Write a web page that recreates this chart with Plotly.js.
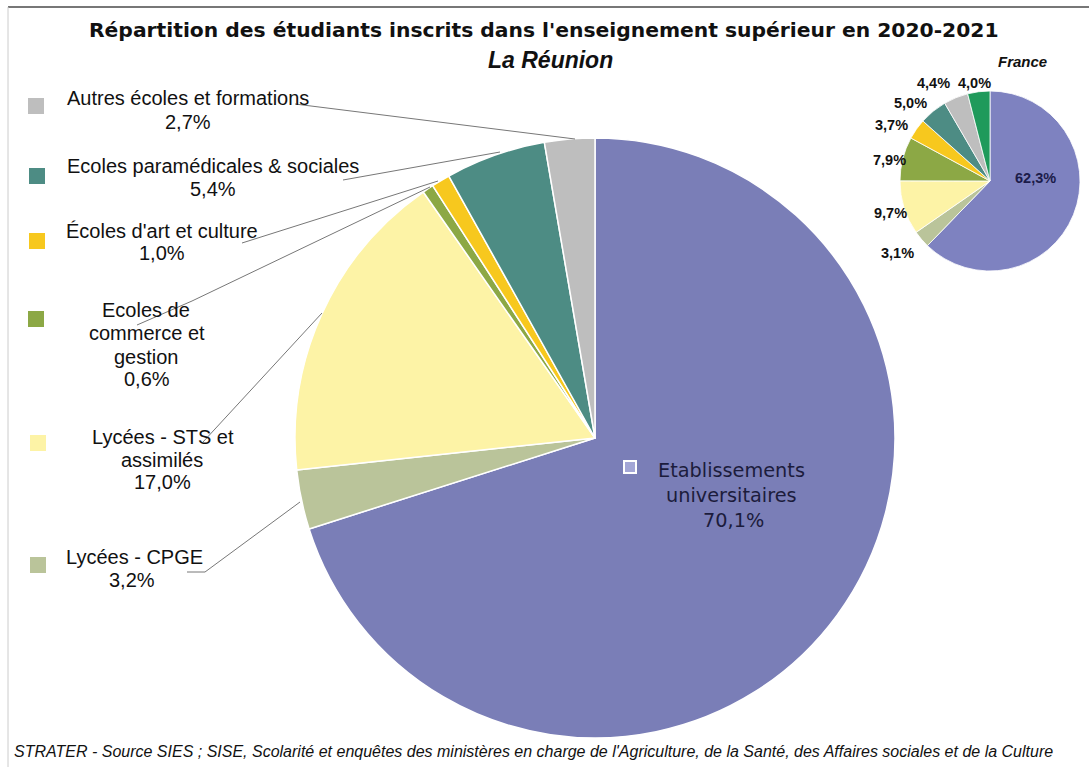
<!DOCTYPE html>
<html>
<head>
<meta charset="utf-8">
<script src="https://cdn.plot.ly/plotly-3.0.1.min.js"></script>
<style>html,body{margin:0;padding:0;background:#fff;}#chart{width:1089px;height:767px;}</style>
</head>
<body>
<div id="chart"></div>
<script>
// ---- Data ----
const reunionCategories = ["Etablissements universitaires", "Lycées - CPGE", "Lycées - STS et assimilés", "Ecoles de commerce et gestion", "Écoles d'art et culture", "Ecoles paramédicales & sociales", "Autres écoles et formations"];
const reunionValues = [70.1, 3.2, 17.0, 0.6, 1.0, 5.4, 2.7];
const reunionColors = ["#7A7EB7", "#BAC49A", "#FDF3A6", "#8CA845", "#F7C81E", "#4D8C84", "#BEBEBE"];

const franceCategories = ["Etablissements universitaires", "Lycées - CPGE", "Lycées - STS et assimilés", "Ecoles de commerce et gestion", "Écoles d'art et culture", "Ecoles paramédicales & sociales", "Autres écoles et formations", "Autres (France)"];
const franceValues = [62.3, 3.1, 9.7, 7.9, 3.7, 5.0, 4.4, 4.0];
const franceColors = ["#7E82C0", "#BAC49A", "#FDF3A6", "#8CA845", "#F7C81E", "#4D8C84", "#BEBEBE", "#1F9A5B"];

const W = 1089, H = 767;
const px = (x) => x / W;
const py = (y) => 1 - y / H;
const fmt = (v) => v.toFixed(1).replace('.', ',') + '%';

const traces = [
  {
    type: 'pie', values: reunionValues, labels: reunionCategories, sort: false,
    direction: 'clockwise', rotation: 0,
    marker: {colors: reunionColors, line: {color: '#ffffff', width: 1.5}},
    textinfo: 'none', hoverinfo: 'skip',
    domain: {x: [px(295), px(895)], y: [py(738), py(138)]}
  },
  {
    type: 'pie', values: franceValues, labels: franceCategories, sort: false,
    direction: 'clockwise', rotation: 0,
    marker: {colors: franceColors, line: {color: '#ffffff', width: 0.8}},
    textinfo: 'none', hoverinfo: 'skip',
    domain: {x: [px(900), px(1080)], y: [py(271), py(91)]}
  }
];

const F = 'Liberation Sans, Arial, sans-serif';
const FD = 'DejaVu Sans, sans-serif';
const ann = [];
const txt = (x, y, text, size, opts, fam, color) => ann.push(Object.assign({
  xref: 'paper', yref: 'paper', x: px(x), y: py(y), text: text, showarrow: false,
  xanchor: 'center', yanchor: 'middle', font: {family: fam || F, size: size, color: color || '#111'}
}, opts || {}));

txt(544, 30, "<b>Répartition des étudiants inscrits dans l'enseignement supérieur en 2020-2021</b>", 20.3, null, FD);
txt(550, 60, "<b><i>La Réunion</i></b>", 23);
txt(1022, 62, "<b><i>France</i></b>", 15);

// Left labels (La Réunion), one annotation per text line
const leftLines = [
  [["Autres écoles et formations", 188, 98], [fmt(reunionValues[6]), 188, 122]],
  [["Ecoles paramédicales & sociales", 213, 166], [fmt(reunionValues[5]), 213, 189]],
  [["Écoles d'art et culture", 162, 231], [fmt(reunionValues[4]), 162, 253]],
  [["Ecoles de", 146, 310], ["commerce et", 147, 333], ["gestion", 146, 357], [fmt(reunionValues[3]), 147, 379]],
  [["Lycées - STS et", 163, 437], ["assimilés", 162, 460], [fmt(reunionValues[2]), 162, 482]],
  [["Lycées - CPGE", 134, 557], [fmt(reunionValues[1]), 132, 580]]
];
leftLines.forEach(group => group.forEach(l => txt(l[1], l[2], l[0], 20)));

txt(731, 470, "Etablissements", 19.3, null, FD, '#1c1c3c');
txt(731, 495, "universitaires", 19.3, null, FD, '#1c1c3c');
txt(733, 520, fmt(reunionValues[0]), 19.3, null, FD, '#1c1c3c');

// France labels
const frPos = [[1035, 178], [897, 253], [890, 213], [889, 160], [891, 125], [910, 103], [933, 83], [974, 83]];
franceValues.forEach((v, i) => txt(frPos[i][0], frPos[i][1], "<b>" + fmt(v) + "</b>", 14.5, null, F, i === 0 ? '#1c1c4a' : '#111'));

txt(12, 751, "<i>STRATER - Source SIES ; SISE, Scolarité et enquêtes des ministères en charge de l'Agriculture, de la Santé, des Affaires sociales et de la Culture</i>", 16, {xanchor: 'left'});

// Shapes: frame, legend squares, leader lines
const shapes = [];
const line = (pts, color) => {
  let d = 'M ' + pts.map(p => px(p[0]) + ',' + py(p[1])).join(' L ');
  shapes.push({type: 'path', xref: 'paper', yref: 'paper', path: d, line: {color: color || '#777', width: 1}});
};
shapes.push({type: 'line', xref: 'paper', yref: 'paper', x0: px(8), x1: px(1089), y0: py(7), y1: py(7), line: {color: '#777', width: 2}});
shapes.push({type: 'line', xref: 'paper', yref: 'paper', x0: px(8), x1: px(8), y0: py(7), y1: py(767), line: {color: '#ccc', width: 1}});

const sq = [[36, 106, 6], [37, 176, 5], [37, 241, 4], [36, 319, 3], [38, 443, 2], [38, 565, 1]];
sq.forEach(s => shapes.push({type: 'rect', xref: 'paper', yref: 'paper',
  x0: px(s[0] - 8), x1: px(s[0] + 8), y0: py(s[1] + 8), y1: py(s[1] - 8),
  fillcolor: reunionColors[s[2]], line: {width: 0}}));
shapes.push({type: 'rect', xref: 'paper', yref: 'paper', x0: px(624), x1: px(636), y0: py(473), y1: py(461),
  fillcolor: '#A3A6D6', line: {color: '#ffffff', width: 2}});

line([[295, 104], [575, 139]]);
line([[343, 180], [500, 152]]);
line([[242, 243], [438, 181]]);
line([[137, 325], [192, 301], [430, 187]]);
line([[203, 442], [322, 313]]);
line([[187, 572], [205, 572], [300, 502]]);

Plotly.newPlot('chart', traces, {
  width: W, height: H, margin: {l: 0, r: 0, t: 0, b: 0},
  paper_bgcolor: '#ffffff', plot_bgcolor: '#ffffff', showlegend: false,
  annotations: ann, shapes: shapes
}, {staticPlot: true});
</script>
</body>
</html>
